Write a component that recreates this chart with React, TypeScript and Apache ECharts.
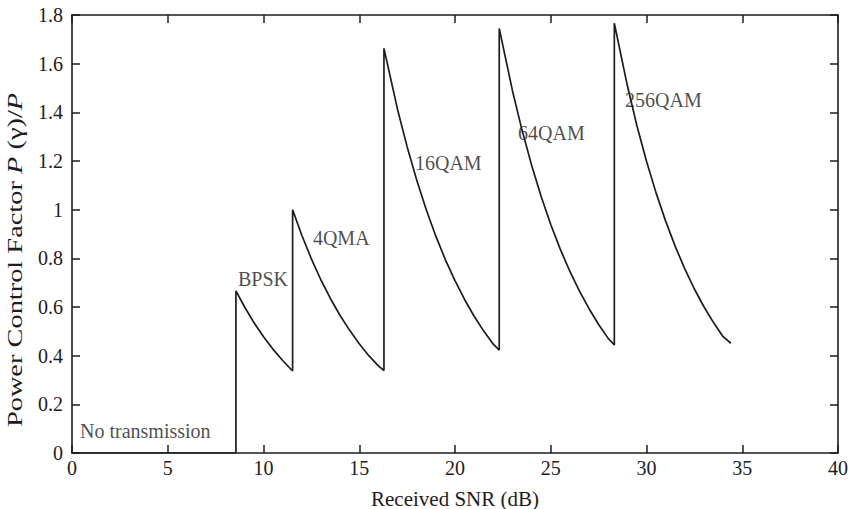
import React, { useEffect, useRef } from "react";
import * as echarts from "echarts";

// Received SNR (dB) sample points along the plotted curve
const snrDb = [
  0, 8.56,
  8.56, 9.0, 9.5, 10.0, 10.5, 11.0, 11.52,
  11.52, 12.0, 12.5, 13.0, 13.5, 14.0, 14.5, 15.0, 15.5, 16.0, 16.29,
  16.29, 17.0, 17.5, 18.0, 18.5, 19.0, 19.5, 20.0, 20.5, 21.0, 21.5, 22.0, 22.31,
  22.31, 23.0, 23.5, 24.0, 24.5, 25.0, 25.5, 26.0, 26.5, 27.0, 27.5, 28.0, 28.32,
  28.32, 29.0, 29.5, 30.0, 30.5, 31.0, 31.5, 32.0, 32.5, 33.0, 33.5, 34.0, 34.41,
];
// Power control factor P(γ)/P at those points
const powerFactor = [
  0, 0,
  0.666, 0.602, 0.536, 0.478, 0.426, 0.38, 0.337,
  1.0, 0.895, 0.798, 0.711, 0.634, 0.565, 0.504, 0.449, 0.4, 0.358, 0.339,
  1.663, 1.412, 1.259, 1.122, 1.0, 0.891, 0.794, 0.708, 0.631, 0.562, 0.501, 0.447, 0.423,
  1.745, 1.489, 1.327, 1.183, 1.054, 0.939, 0.837, 0.746, 0.665, 0.593, 0.528, 0.471, 0.444,
  1.766, 1.51, 1.345, 1.199, 1.069, 0.953, 0.849, 0.757, 0.674, 0.601, 0.536, 0.478, 0.451,
];

// Region annotations
const labelNames = ["No transmission", "BPSK", "4QMA", "16QAM", "64QAM", "256QAM"];
const labelX = [0.42, 8.67, 12.58, 17.91, 23.29, 28.88];
const labelY = [0.092, 0.715, 0.884, 1.192, 1.315, 1.451];

const xTicks = [0, 5, 10, 15, 20, 25, 30, 35, 40];
const yTicks = [0, 0.2, 0.4, 0.6, 0.8, 1, 1.2, 1.4, 1.6, 1.8];

const xTitle = "Received SNR (dB)";
const yTitle = "Power Control Factor {i|P} (γ)/{i|P}";

const INK = "#1e1c1d";
const FONT = "Liberation Serif";

export default function App() {
  const ref = useRef<HTMLDivElement>(null);

  useEffect(() => {
    if (!ref.current) return;
    const chart = echarts.init(ref.current, undefined, { renderer: "svg" });

    const mkLine = () => ({ show: true, onZero: false, lineStyle: { color: INK, width: 1.6 } });
    const mkTick = () => ({ show: true, inside: true, length: 8, lineStyle: { color: INK, width: 1.5 } });

    const option: any = {
      animation: false,
      backgroundColor: "#ffffff",
      textStyle: { fontFamily: FONT, color: INK },
      grid: {
        left: 72,
        right: 13,
        top: 15,
        bottom: 56,
        containLabel: false,
        outerBoundsMode: "none",
      },
      xAxis: [
        {
          type: "value",
          min: xTicks[0],
          max: xTicks[xTicks.length - 1],
          interval: 5,
          position: "bottom",
          axisLine: mkLine(),
          axisTick: mkTick(),
          splitLine: { show: false },
          axisLabel: {
            fontFamily: FONT,
            fontSize: 20,
            color: INK,
            margin: 5,
            formatter: (v: number) => String(v),
          },
          name: xTitle,
          nameLocation: "middle",
          nameGap: 35,
          nameTextStyle: { fontFamily: FONT, fontSize: 21, color: INK },
        },
        {
          type: "value",
          min: xTicks[0],
          max: xTicks[xTicks.length - 1],
          interval: 5,
          position: "top",
          axisLine: mkLine(),
          axisTick: mkTick(),
          splitLine: { show: false },
          axisLabel: { show: false },
        },
      ],
      yAxis: [
        {
          type: "value",
          min: yTicks[0],
          max: yTicks[yTicks.length - 1],
          interval: 0.2,
          position: "left",
          axisLine: mkLine(),
          axisTick: mkTick(),
          splitLine: { show: false },
          axisLabel: {
            fontFamily: FONT,
            fontSize: 20,
            color: INK,
            margin: 9,
            formatter: (v: number) => String(Math.round(v * 10) / 10),
          },
        },
        {
          type: "value",
          min: yTicks[0],
          max: yTicks[yTicks.length - 1],
          interval: 0.2,
          position: "right",
          axisLine: mkLine(),
          axisTick: mkTick(),
          splitLine: { show: false },
          axisLabel: { show: false },
        },
      ],
      graphic: [
        {
          type: "text",
          x: 15,
          y: 260,
          rotation: Math.PI / 2,
          scaleX: 1.42,
          silent: true,
          style: {
            text: yTitle,
            fontFamily: FONT,
            fontSize: 20,
            fill: INK,
            align: "center",
            verticalAlign: "middle",
            rich: {
              i: { fontFamily: FONT, fontSize: 20, fontStyle: "italic", fill: INK },
            },
          },
        },
      ],
      series: [
        {
          type: "line",
          data: snrDb.map((x, i) => [x, powerFactor[i]]),
          showSymbol: false,
          symbol: "none",
          lineStyle: { color: INK, width: 1.7 },
          z: 3,
        },
        {
          type: "scatter",
          data: labelNames.map((n, i) => [labelX[i], labelY[i], n]),
          symbolSize: 0,
          silent: true,
          label: {
            show: true,
            position: [0, 0],
            align: "left",
            verticalAlign: "middle",
            fontFamily: FONT,
            fontSize: 20,
            color: INK,
            formatter: (p: any) => p.data[2],
          },
          z: 4,
        },
      ],
    };

    chart.setOption(option);
    return () => chart.dispose();
  }, []);

  return (
    <div
      ref={ref}
      style={{ position: "fixed", left: 0, top: 0, width: 851, height: 509 }}
    />
  );
}
